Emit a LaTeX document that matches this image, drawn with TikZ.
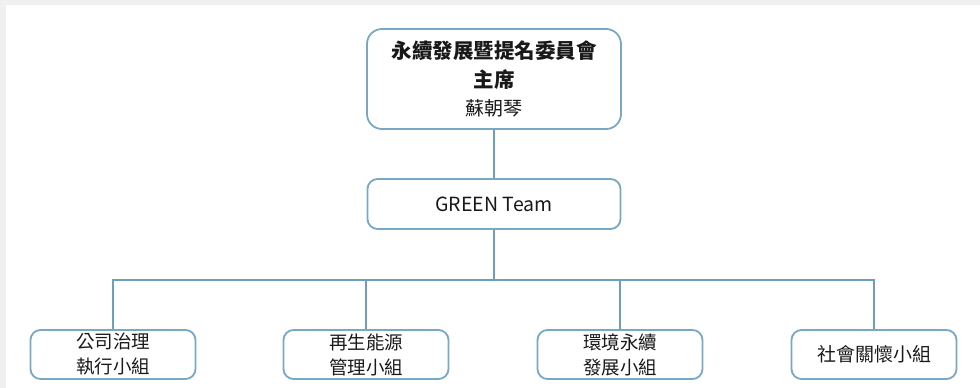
\documentclass[tikz,border=0pt]{standalone}
\usepackage{fontspec}
\setmainfont{Noto Sans CJK TC}
\usetikzlibrary{calc}
\definecolor{lineblue}{RGB}{108,160,186}
\definecolor{boxblue}{RGB}{120,168,195}
\definecolor{txt}{RGB}{25,25,25}
\definecolor{bggray}{RGB}{240,240,240}
\begin{document}
\begin{tikzpicture}[x=1pt,y=-1pt,
  box/.style={draw=boxblue, line width=1.8pt, fill=white, inner sep=0pt, align=center, text=txt, font=\fontsize{18.5}{25}\selectfont},
  conn/.style={draw=lineblue, line width=2.2pt}]
\fill[bggray] (0,0) rectangle (980,388);
\fill[white] (6,5) rectangle (980,388);
\useasboundingbox (0,0) rectangle (980,388);
\node[box, rounded corners=15pt, minimum width=254pt, minimum height=100pt, font=\fontsize{19}{28.5}\selectfont] (top) at (494,79)
  {{\fontsize{20.5}{28.5}\selectfont\textbf{永續發展暨提名委員會}}\\{\fontsize{20.5}{28.5}\selectfont\textbf{主席}}\\蘇朝琴};
\node[box, rounded corners=10pt, minimum width=253pt, minimum height=50pt, font=\fontsize{19.5}{25}\selectfont] (green) at (494,204) {GREEN Team};
\node[box, rounded corners=10pt, minimum width=165pt, minimum height=49pt] (b1) at (113,354.5) {公司治理\\執行小組};
\node[box, rounded corners=10pt, minimum width=165pt, minimum height=49pt] (b2) at (366,354.5) {再生能源\\管理小組};
\node[box, rounded corners=10pt, minimum width=165pt, minimum height=49pt] (b3) at (620,354.5) {環境永續\\發展小組};
\node[box, rounded corners=10pt, minimum width=165pt, minimum height=49pt, font=\fontsize{19}{25}\selectfont] (b4) at (874,354.5) {社會關懷小組};
\coordinate (hub) at (494,280);
\draw[conn] (top.south) -- (green.north);
\draw[conn] (green.south) -- (hub);
\draw[conn] (b1.north) |- (hub) -| (b4.north);
\draw[conn] (b2.north) -- (b2.north |- hub);
\draw[conn] (b3.north) -- (b3.north |- hub);
\end{tikzpicture}
\end{document}
